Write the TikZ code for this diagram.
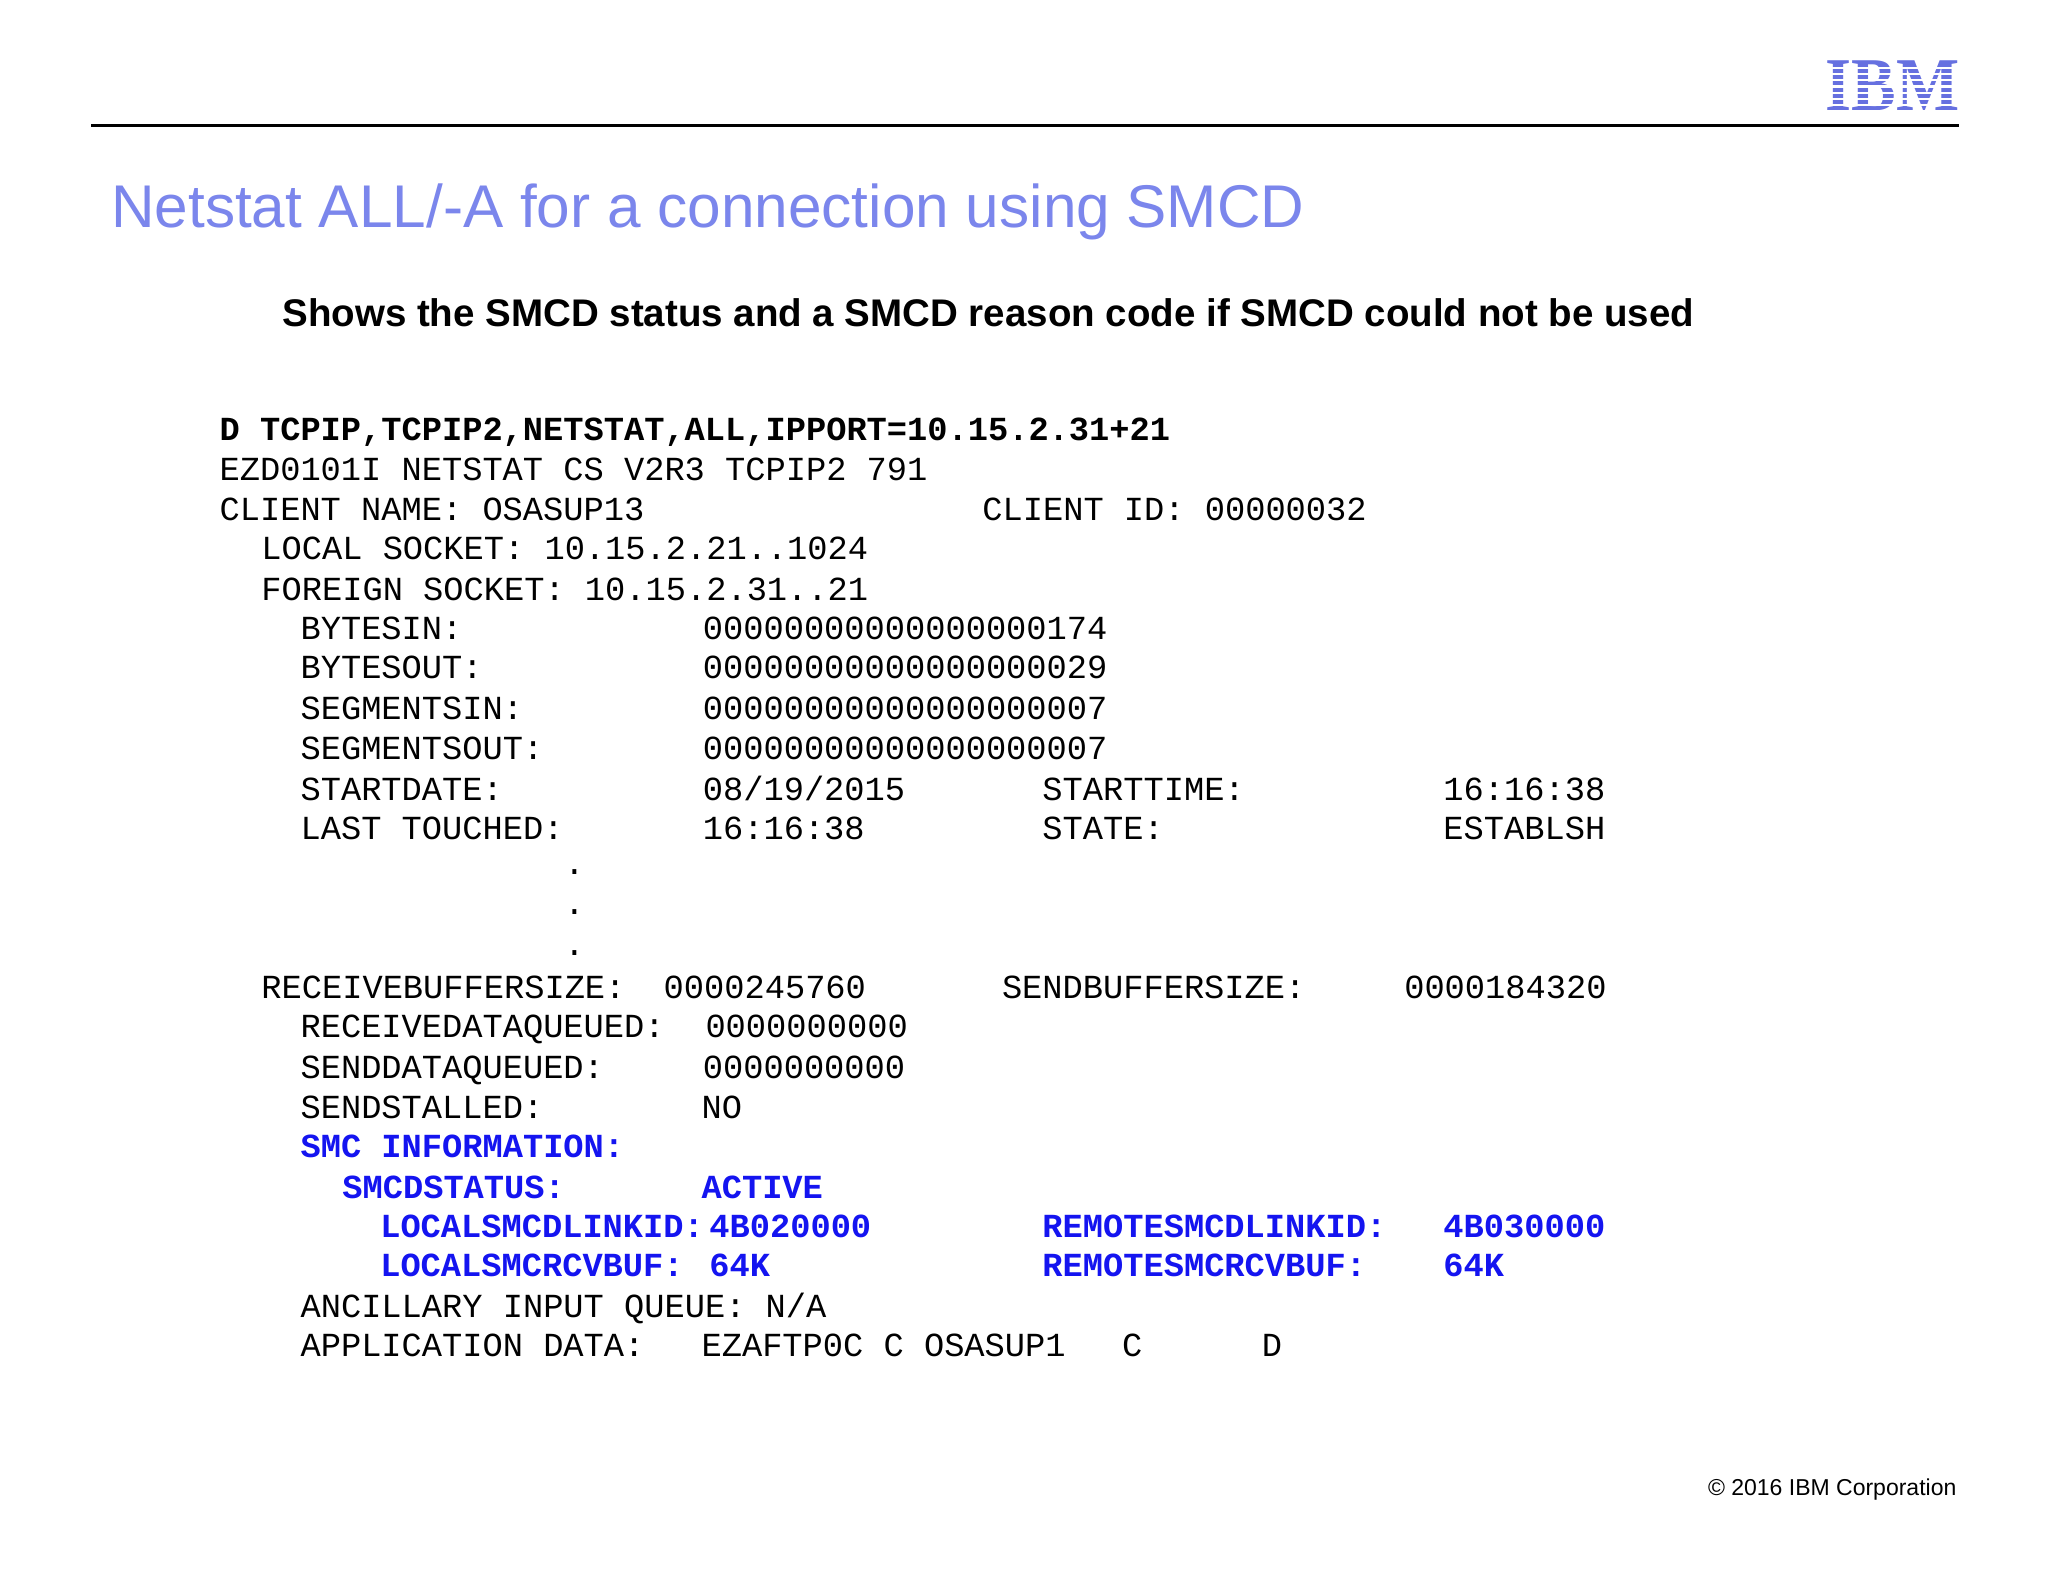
\documentclass[tikz,border=0pt]{standalone}
\usepackage{fontspec}
\setmainfont{Liberation Sans}
\newfontfamily\monof{Liberation Mono}
\newfontfamily\serif{Liberation Serif}
\definecolor{ttl}{HTML}{7B86EC}
\definecolor{smc}{HTML}{1414F0}
\definecolor{ibm}{HTML}{6670E0}
\begin{document}
\begin{tikzpicture}[x=1.306pt,y=-1.306pt,
  mono/.style={anchor=base west,inner sep=0pt,font=\monof\fontsize{33.7}{40}\selectfont},
  bmono/.style={mono,font=\monof\bfseries\fontsize{33.7}{40}\selectfont},
  blu/.style={bmono,text=smc}]
\useasboundingbox[fill=white] (0,0) rectangle (1568,1211);
\newcommand\Lx[4][mono]{\node[#1] at (#2,#3+7.5) {#4};}
% header
\draw[line width=2.6pt] (70,96) -- (1500,96);
\node[anchor=center,inner sep=0pt,text=ibm,font=\serif\bfseries\fontsize{76}{76}\selectfont,xscale=0.88] (logo) at (1449,66) {IBM};
\foreach \k in {0,...,7}{\fill[white] (1396,{48+\k*4.75+3.1}) rectangle (1503,{48+\k*4.75+4.75});}
\node[anchor=base west,inner sep=0pt,text=ttl,font=\fontsize{60.3}{64}\selectfont] (title) at (85,174) {Netstat ALL/-A for a connection using SMCD};
\node[anchor=base west,inner sep=0pt,font=\bfseries\fontsize{38.5}{40}\selectfont] (sub) at (216,250) {Shows the SMCD status and a SMCD reason code if SMCD could not be used};
% console
\Lx[bmono]{168}{330}{D TCPIP,TCPIP2,NETSTAT,ALL,IPPORT=10.15.2.31+21}
\Lx{168}{360}{EZD0101I NETSTAT CS V2R3 TCPIP2 791}
\Lx{168}{391}{CLIENT NAME: OSASUP13}
\Lx{752}{391}{CLIENT ID: 00000032}
\Lx{200}{421}{LOCAL SOCKET: 10.15.2.21..1024}
\Lx{200}{452}{FOREIGN SOCKET: 10.15.2.31..21}
\Lx{230}{482}{BYTESIN:}\Lx{538}{482}{00000000000000000174}
\Lx{230}{512}{BYTESOUT:}\Lx{538}{512}{00000000000000000029}
\Lx{230}{543}{SEGMENTSIN:}\Lx{538}{543}{00000000000000000007}
\Lx{230}{574}{SEGMENTSOUT:}\Lx{538}{574}{00000000000000000007}
\Lx{230}{605}{STARTDATE:}\Lx{538}{605}{08/19/2015}\Lx{798}{605}{STARTTIME:}\Lx{1105}{605}{16:16:38}
\Lx{230}{635}{LAST TOUCHED:}\Lx{538}{635}{16:16:38}\Lx{798}{635}{STATE:}\Lx{1105}{635}{ESTABLSH}
\Lx{432}{662}{.}\Lx{432}{693}{.}\Lx{432}{724}{.}
\Lx{200}{757}{RECEIVEBUFFERSIZE:}\Lx{508}{757}{0000245760}\Lx{767}{757}{SENDBUFFERSIZE:}\Lx{1075}{757}{0000184320}
\Lx{230}{787}{RECEIVEDATAQUEUED:}\Lx{540}{787}{0000000000}
\Lx{230}{818}{SENDDATAQUEUED:}\Lx{538}{818}{0000000000}
\Lx{230}{849}{SENDSTALLED:}\Lx{537}{849}{NO}
\Lx[blu]{230}{879}{SMC INFORMATION:}
\Lx[blu]{262}{910}{SMCDSTATUS:}\Lx[blu]{537}{910}{ACTIVE}
\Lx[blu]{291}{940}{LOCALSMCDLINKID:}\Lx[blu]{543}{940}{4B020000}\Lx[blu]{798}{940}{REMOTESMCDLINKID:}\Lx[blu]{1105}{940}{4B030000}
\Lx[blu]{291}{970}{LOCALSMCRCVBUF:}\Lx[blu]{543}{970}{64K}\Lx[blu]{798}{970}{REMOTESMCRCVBUF:}\Lx[blu]{1105}{970}{64K}
\Lx{230}{1001}{ANCILLARY INPUT QUEUE: N/A}
\Lx{230}{1031}{APPLICATION DATA:}\Lx{537}{1031}{EZAFTP0C C OSASUP1}\Lx{859}{1031}{C}\Lx{966}{1031}{D}
\node[anchor=base east,inner sep=0pt,font=\fontsize{23}{23}\selectfont] (copy) at (1498,1145) {© 2016 IBM Corporation};
\end{tikzpicture}
\end{document}
